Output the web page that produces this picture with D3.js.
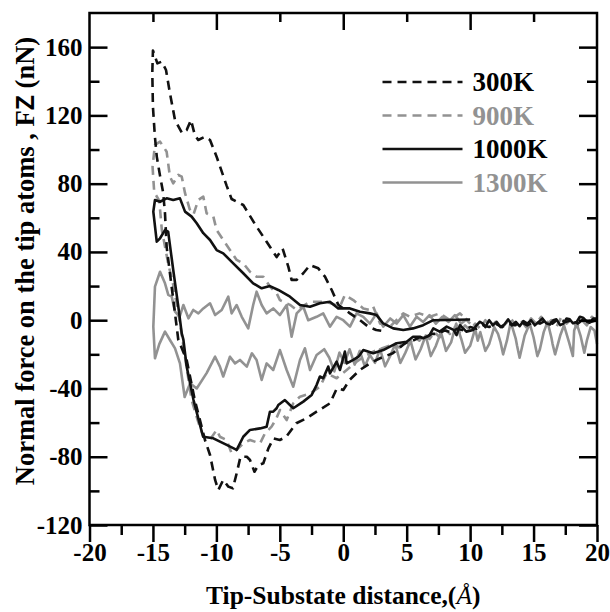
<!DOCTYPE html>
<html>
<head>
<meta charset="utf-8">
<script src="https://cdn.jsdelivr.net/npm/d3@7"></script>
<style>
  body { margin: 0; background: #fff; }
  text { font-family: "Liberation Serif", "Times New Roman", serif; font-weight: bold; }
</style>
</head>
<body>
<div id="chart"></div>
<script>
// data: each curve is a loop, traced from x=20 in to -15 and back out
var s300 = [[20,0],[19.5,-1],[19,1],[18.5,-2],[18,0],[17.5,-1],[17,1],[16.5,-2],[16,0],[15.5,-2],[15,-1],[14.5,-3],[14,-1],[13.5,-3],[13,-2],[12.5,-4],[12,-2],[11.5,-4],[11,-3],[10.5,-5],[10,-4],[9.5,-6],[9,-5],[8.5,-7],[8,-6],[7.5,-8],[7,-8],[6.5,-10],[6,-10],[5.5,-12],[5,-13],[4.7,-14.5],[3.9,-19.4],[2.9,-22.3],[2.1,-25.3],[1.3,-29.2],[0.5,-35],[0,-40.9],[-0.5,-39.9],[-1.05,-48.7],[-2.1,-53.6],[-2.9,-57.5],[-3.7,-60.4],[-4.5,-68.3],[-5,-70.2],[-5.5,-69.2],[-5.9,-75.1],[-6.3,-83.8],[-6.7,-85],[-7,-88.8],[-7.35,-81.9],[-7.6,-80],[-8.1,-80],[-8.4,-89.7],[-8.7,-98.5],[-9.06,-97.5],[-9.46,-93.6],[-9.85,-99.5],[-10.1,-93.6],[-10.5,-79],[-10.9,-70.2],[-11.16,-62.4],[-11.7,-46.8],[-12.34,-23.3],[-13,-11.6],[-13.26,4],[-13.66,27.5],[-13.92,43],[-14.05,62.6],[-14.2,75],[-14.45,85],[-14.7,96],[-14.85,108],[-15,125],[-15.05,145],[-15,158],
  [-14.65,150.5],[-14.3,151.5],[-13.97,146.6],[-13.66,133],[-13.26,117.3],[-12.7,109.5],[-12.34,111.4],[-12,117.3],[-11.7,108.5],[-11.43,105.6],[-10.9,107.5],[-10.5,105.6],[-9.98,95.8],[-9.2,79],[-8.8,71],[-7.88,67.5],[-6.83,54.8],[-6.04,46],[-5.78,43],[-5.25,37],[-4.78,42],[-4.33,31.4],[-4.07,23.6],[-3.67,23.6],[-3.15,27.5],[-2.62,32.3],[-1.97,30.4],[-1.44,25.5],[-0.91,17.7],[-0.39,9],[0.53,4],[1.32,0],[1.97,-3.8],[2.6,-5.7],[3.03,-6.2]];

var s900 = [[20,-1],[19.6,2],[19.2,-3],[18.8,0],[18.4,-4],[18,1],[17.6,-2],[17.2,2],[16.8,-4],[16.4,0],[16,-3],[15.6,2],[15.2,-2],[14.8,1],[14.4,-4],[14,0],[13.6,-3],[13.2,1],[12.8,-2],[12.4,-5],[12,-1],[11.6,-4],[11.2,0],[10.8,-5],[10.4,-2],[10,-6],[9.6,-3],[9.2,-7],[8.8,-4],[8.4,-8],[8,-5],[7.6,-10],[7.2,-7],[6.8,-11],[6.4,-8],[6,-12],[5.6,-10],[5.2,-14],[4.8,-12],[4.4,-16],[4,-14],[3.41,-15.5],[2.63,-17.5],[1.84,-20.4],[1.05,-24.3],[0.27,-29.2],[-0.52,-34],[-1.31,-31.1],[-1.84,-39],[-2.62,-43],[-3.41,-44.8],[-3.94,-48.7],[-4.46,-58.5],[-4.99,-52.6],[-5.3,-58],[-5.65,-62.4],[-6.17,-66.3],[-6.56,-72.2],[-7.35,-70.2],[-7.88,-72.2],[-8.4,-76],[-8.8,-78],[-9.19,-70.2],[-9.72,-68.3],[-9.98,-64.3],[-10.5,-70],[-11.03,-68.3],[-11.5,-58],[-11.95,-46.8],[-12.4,-25],[-12.9,0],[-13.4,20.6],[-13.8,33.3],[-14.3,53],[-14.5,70],[-14.9,75],[-15.03,90],
  [-14.84,102.7],[-14.44,104.6],[-14.18,101.7],[-13.92,98.7],[-13.66,84.1],[-13.4,80.2],[-13,85.1],[-12.73,84.1],[-12.47,74.4],[-12.1,65],[-11.8,62],[-11.43,70.4],[-11.03,72.4],[-10.77,62.6],[-10.24,60.7],[-9.98,52.8],[-9.46,47],[-8.93,41.1],[-8.4,35.3],[-7.88,33.3],[-7.35,28.4],[-6.83,25.5],[-6.3,25.5],[-5.78,19.7],[-5.25,15.8],[-4.99,11.8],[-4.2,9],[-3.67,6],[-2.62,10.8],[-1.31,10.8],[-0.26,8],[0.13,14.8],[0.79,11.8],[1.58,6.9],[2.1,6],[2.36,8],[2.9,-1.9],[3.68,-3.8],[4.73,4],[5.25,2],[6,4],[6.83,2],[7.6,4],[8.4,0],[9.2,4],[10,-2]];

var s1000 = [[20,1],[19.7,1],[19.4,-1.5],[19.2,-0.9],[18.9,1.5],[18.65,2],[18.4,-1],[18.1,-1.8],[17.85,0.5],[17.6,1],[17.35,-2],[17.1,-2.9],[16.8,0.5],[16.55,0],[16.3,-2.5],[16,-1.8],[15.7,1],[15.4,-1],[15.1,-3],[14.8,0],[14.5,-2],[14.2,-0.5],[13.9,-3.5],[13.6,-1],[13.3,-3],[13,0.5],[12.7,-2.5],[12.4,-4],[12.1,-1],[11.8,-3],[11.5,0],[11.2,-4],[11,-2],[10.77,-0.9],[10.5,-3],[10.24,-5.7],[9.7,-6.7],[9.2,-2.9],[8.93,-8.7],[8.7,-5.7],[8.15,-3.8],[7.6,-6.7],[7.1,-4.8],[6.8,-8.7],[6.57,-9.7],[6.3,-10.6],[6.04,-9.7],[5.5,-9.7],[5,-12.6],[4.2,-13.5],[3.68,-15.5],[3.15,-17.5],[2.36,-19.4],[1.58,-17.5],[1.2,-21.4],[0.79,-23.3],[0.27,-25.3],[0.13,-18.4],[-0.26,-29.2],[-0.52,-24.3],[-1.05,-31.1],[-1.18,-27.2],[-1.58,-34],[-1.84,-33],[-2.1,-38],[-2.49,-43.8],[-3.15,-47.7],[-3.94,-51.6],[-4.6,-46.8],[-5.12,-49.7],[-5.25,-51.6],[-5.52,-53.6],[-5.78,-53.6],[-6.04,-62.4],[-6.56,-63.4],[-7.35,-64.3],[-7.88,-68.3],[-8.4,-76],[-9.19,-73.1],[-10.24,-69.2],[-11.04,-68.3],[-11.2,-64],[-11.8,-46.8],[-12.34,-27.2],[-12.6,-11.4],[-12.73,-7.7],[-13,8],[-13.4,29.4],[-13.8,51.9],[-14.05,52.8],[-14.44,48],[-14.7,46],[-14.97,63.6],[-14.84,70.4],
  [-14.44,69.4],[-13.92,71.4],[-13.4,70.4],[-12.87,71.4],[-12.47,63.6],[-11.95,60.7],[-11.55,56.8],[-11.03,51],[-10.5,47],[-9.98,41.1],[-9.46,39.2],[-8.67,33.3],[-7.88,27.5],[-7.1,21.6],[-6.43,18.7],[-5.78,20],[-5.12,17.7],[-4.2,13.8],[-3.41,8.9],[-2.62,7.9],[-1.84,9.9],[-1.05,10.8],[-0.39,6.9],[0.53,6.9],[1.32,5],[2.1,4],[2.63,3],[3.15,-1.9],[3.94,-4.8],[4.73,-5.7],[5.5,-4.8],[6.3,-2.9],[7.1,0],[10,0.4]];

var s1300 = [[20,-14],[19.8,-6],[19.5,-4],[19.2,-12],[19,-19],[18.7,-9],[18.4,-2],[18.2,-6],[18.1,-21],[17.8,-13],[17.4,-3],[17.1,-9],[16.7,-20],[16.5,-14],[16.4,-10],[16.1,-1],[15.8,-7],[15.5,-17],[15.3,-21],[15,-10],[14.7,-2],[14.3,-9],[13.9,-22],[13.7,-15],[13.6,-11],[13.2,-1],[12.9,-12],[12.6,-20],[12.4,-13],[12.2,-8],[11.9,-4],[11.5,-14],[11.2,-18],[10.8,-7],[10.6,-12],[10.4,-5],[10,-15],[9.6,-19],[9.3,-11],[8.9,-2],[8.5,-13],[8.1,-18],[7.7,-7],[7.3,-15],[6.9,-21],[6.5,-9],[6.1,-17],[5.7,-23],[5.3,-12],[4.9,-19],[4.5,-25],[4.1,-14],[3.7,-21],[3.3,-27],[2.9,-17],[2.5,-25],[2.1,-20.4],[1.7,-27],[1.3,-18],[0.9,-26],[0.5,-17],[0.1,-25],[-0.3,-19],[-0.7,-30],[-1.1,-22],[-1.5,-17],[-2.1,-20.4],[-2.62,-29.2],[-3.02,-16.5],[-3.41,-23.3],[-3.94,-39],[-4.46,-29.2],[-4.99,-17.5],[-5.52,-29.2],[-6.04,-25.3],[-6.43,-35],[-6.83,-23.3],[-7.2,-19.4],[-7.6,-27.2],[-8.14,-23.3],[-8.53,-25.3],[-8.93,-21.4],[-9.46,-33],[-9.72,-27.2],[-10.1,-21.4],[-10.77,-31],[-11.55,-40],[-12.07,-37],[-12.5,-45],[-12.87,-25.3],[-13.26,-16.5],[-13.66,-11.6],[-14.05,-6.7],[-14.5,-14],[-14.84,-22.3],[-14.97,-3.8],[-14.84,19.7],
  [-14.44,28.4],[-14.05,21.6],[-13.79,14.8],[-13.52,13.8],[-13.26,5],[-12.9,2],[-12.6,8.9],[-12.2,1.1],[-11.82,6],[-11.42,4],[-11.03,6.9],[-10.5,9.9],[-10.1,3],[-9.58,6],[-9.06,13.8],[-8.8,4],[-8.4,8.9],[-8,2],[-7.49,-4.8],[-7.1,8.9],[-6.83,16.7],[-6.43,8.9],[-6.04,4],[-5.52,6.9],[-4.99,3],[-4.46,8.9],[-4.07,-9.7],[-3.67,4],[-3.15,7.9],[-2.76,0],[-2.1,2],[-1.58,4],[-1.05,-3.8],[-0.52,2],[0,0],[0.53,-3.8],[1.05,4],[1.58,2],[2.1,-2],[2.63,4],[3.15,-3.8],[3.7,1],[4.2,-2],[4.73,3],[5.25,-3.8],[5.78,2],[6.3,-1],[6.8,3],[7.3,-2],[7.8,2],[8.3,-1],[8.8,3],[9.3,-2],[9.8,1]];

var labels = ["300K", "900K", "1000K", "1300K"];
var xMajor = [-20, -15, -10, -5, 0, 5, 10, 15, 20];
var xMinor = [-17.5, -12.5, -7.5, -2.5, 2.5, 7.5, 12.5, 17.5];
var yMajor = [-120, -80, -40, 0, 40, 80, 120, 160];
var yMinor = [-100, -60, -20, 20, 60, 100, 140];
var topLong = [-10, 0, 10];
var topShort = [-15, -5, 5, 15];

var svgWidth = 610;
var svgHeight = 612;
var margin = { top: 13, right: 13, bottom: 87, left: 89.5 };
var width = svgWidth - margin.left - margin.right;
var height = svgHeight - margin.top - margin.bottom;

var svg = d3.select("#chart")
  .append("svg")
  .attr("width", svgWidth)
  .attr("height", svgHeight);

var chartGroup = svg.append("g")
  .attr("transform", `translate(${margin.left}, ${margin.top})`);

var xScale = d3.scaleLinear().domain([-20, 20]).range([0, width]);
var yScale = d3.scaleLinear().domain([-120, 180]).range([height, 0]);

// curves
var GRAY = "#929292";
var series = [
  { data: s300, color: "#111", dash: "9,6" },
  { data: s900, color: GRAY, dash: "9,6" },
  { data: s1000, color: "#111", dash: null },
  { data: s1300, color: GRAY, dash: null }
];

var line = d3.line()
  .x(d => xScale(d[0]))
  .y(d => yScale(d[1]));

// gray ones underneath
[3, 1, 0, 2].forEach(function(i) {
  var s = series[i];
  chartGroup.append("path")
    .datum(s.data)
    .attr("d", line)
    .attr("fill", "none")
    .attr("stroke", s.color)
    .attr("stroke-width", 2.6)
    .attr("stroke-linejoin", "round")
    .attr("stroke-dasharray", s.dash);
});

// axes
function styleAxis(g) {
  g.select(".domain").remove();
  g.selectAll("line").attr("stroke", "#000").attr("stroke-width", 2.5);
  g.selectAll("text")
    .attr("font-size", 25)
    .attr("font-family", "'Liberation Serif', serif")
    .attr("font-weight", "bold")
    .attr("fill", "#000");
}

var fmt = d => String(d);

chartGroup.append("g")
  .attr("transform", `translate(0, ${height})`)
  .call(d3.axisBottom(xScale).tickValues(xMajor).tickSizeInner(17).tickSizeOuter(0).tickPadding(1).tickFormat(fmt))
  .call(styleAxis);

chartGroup.append("g")
  .attr("transform", `translate(0, ${height})`)
  .call(d3.axisBottom(xScale).tickValues(xMinor).tickSizeInner(10).tickSizeOuter(0).tickFormat(""))
  .call(styleAxis);

chartGroup.append("g")
  .call(d3.axisTop(xScale).tickValues(topLong).tickSizeInner(-17).tickSizeOuter(0).tickFormat(""))
  .call(styleAxis);

chartGroup.append("g")
  .call(d3.axisTop(xScale).tickValues(topShort).tickSizeInner(-9).tickSizeOuter(0).tickFormat(""))
  .call(styleAxis);

chartGroup.append("g")
  .call(d3.axisLeft(yScale).tickValues(yMajor).tickSizeInner(-18).tickSizeOuter(0).tickPadding(7).tickFormat(fmt))
  .call(styleAxis);

chartGroup.append("g")
  .call(d3.axisLeft(yScale).tickValues(yMinor).tickSizeInner(-10).tickSizeOuter(0).tickFormat(""))
  .call(styleAxis);

chartGroup.append("g")
  .attr("transform", `translate(${width}, 0)`)
  .call(d3.axisRight(yScale).tickValues(yMajor).tickSizeInner(-18).tickSizeOuter(0).tickFormat(""))
  .call(styleAxis);

chartGroup.append("g")
  .attr("transform", `translate(${width}, 0)`)
  .call(d3.axisRight(yScale).tickValues(yMinor).tickSizeInner(-10).tickSizeOuter(0).tickFormat(""))
  .call(styleAxis);

// frame
chartGroup.append("rect")
  .attr("width", width)
  .attr("height", height)
  .attr("fill", "none")
  .attr("stroke", "#000")
  .attr("stroke-width", 2.5);

// legend
var legend = chartGroup.append("g").attr("transform", "translate(293, 69)");
series.forEach(function(s, i) {
  var yy = i * 33.5;
  legend.append("line")
    .attr("x1", 0).attr("x2", 80)
    .attr("y1", yy).attr("y2", yy)
    .attr("stroke", s.color)
    .attr("stroke-width", 2.6)
    .attr("stroke-dasharray", s.dash);
  legend.append("text")
    .attr("x", 90)
    .attr("y", yy)
    .attr("dy", "0.35em")
    .attr("font-size", 27)
    .attr("fill", s.color === "#111" ? "#000" : GRAY)
    .text(labels[i]);
});

// axis titles
var xTitle = svg.append("text")
  .attr("x", margin.left + width / 2)
  .attr("y", 604)
  .attr("text-anchor", "middle")
  .attr("font-size", 25.5);
xTitle.append("tspan").text("Tip-Substate distance,(");
xTitle.append("tspan").attr("font-style", "italic").attr("font-weight", "normal").text("Å");
xTitle.append("tspan").text(")");

var yTitle = svg.append("text")
  .attr("transform", `translate(34, ${margin.top + 248}) rotate(-90)`)
  .attr("text-anchor", "middle")
  .attr("font-size", 26.5);
yTitle.append("tspan").text("Normal force on the tip atoms , F");
yTitle.append("tspan").attr("font-family", "'Liberation Sans', sans-serif").attr("font-size", 25).text("Z");
yTitle.append("tspan").text(" (nN)");
</script>
</body>
</html>
